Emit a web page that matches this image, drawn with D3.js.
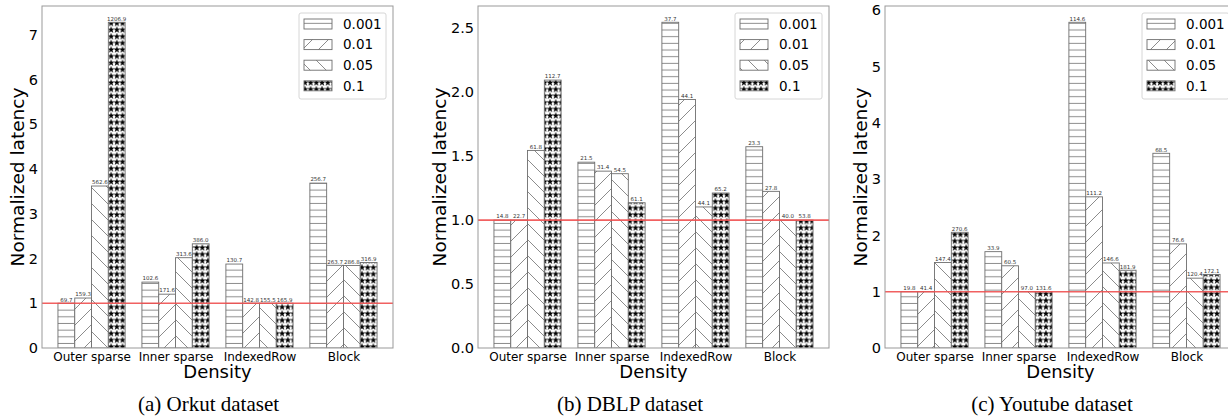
<!DOCTYPE html>
<html>
<head>
<meta charset="utf-8">
<script src="https://cdn.jsdelivr.net/npm/d3@7"></script>
<style>
  body { margin: 0; background: #fff; }
  svg { display: block; }
</style>
</head>
<body>
<script>
// formats on the x axis, densities are the four series
const categories = ["Outer sparse", "Inner sparse", "IndexedRow", "Block"]
const densities = ["0.001", "0.01", "0.05", "0.1"]

// normalized latency, one row per density (order of categories)
const orkutValues = [
  [1.0, 1.472, 1.875, 3.683],
  [1.116, 1.202, 1.0, 1.847],
  [3.618, 2.017, 1.0, 1.844],
  [7.275, 2.327, 1.0, 1.91],
]
// numbers printed on top of the bars
const orkutLabels = [
  [69.7, 102.6, 130.7, 256.7],
  [159.3, 171.6, 142.8, 263.7],
  [562.6, 313.6, 155.5, 286.8],
  [1206.9, 386.0, 165.9, 316.9],
]

const dblpValues = [
  [1.0, 1.453, 2.547, 1.574],
  [1.0, 1.383, 1.943, 1.225],
  [1.545, 1.363, 1.103, 1.0],
  [2.095, 1.136, 1.212, 1.0],
]
const dblpLabels = [
  [14.8, 21.5, 37.7, 23.3],
  [22.7, 31.4, 44.1, 27.8],
  [61.8, 54.5, 44.1, 40.0],
  [112.7, 61.1, 65.2, 53.8],
]

const youtubeValues = [
  [1.0, 1.712, 5.788, 3.46],
  [1.0, 1.461, 2.686, 1.85],
  [1.52, 1.0, 1.511, 1.241],
  [2.056, 1.0, 1.382, 1.308],
]
const youtubeLabels = [
  [19.8, 33.9, 114.6, 68.5],
  [41.4, 60.5, 111.2, 76.6],
  [147.4, 97.0, 146.6, 120.4],
  [270.6, 131.6, 181.9, 172.1],
]

const captions = ["(a) Orkut dataset", "(b) DBLP dataset", "(c) Youtube dataset"]
const yTicks = [
  [0, 1, 2, 3, 4, 5, 6, 7],
  [0, 0.5, 1.0, 1.5, 2.0, 2.5],
  [0, 1, 2, 3, 4, 5, 6],
]
const yTickFormats = [d3.format("d"), d3.format(".1f"), d3.format("d")]

const panels = [
  { values: orkutValues, labels: orkutLabels },
  { values: dblpValues, labels: dblpLabels },
  { values: youtubeValues, labels: youtubeLabels },
]

// layout
const w = 1228
const h = 419
const lefts = [42, 478, 885]
const captionX = [208.5, 630, 1052]
const axW = 351
const plotTop = 6
const plotBottom = 348
const barW = 0.2
const fontSans = "DejaVu Sans, sans-serif"
const edge = "#6e6e6e"

const svg = d3.select("body").append("svg").attr("width", w).attr("height", h)
const defs = svg.append("defs")

// hatch patterns, anchored to the page like matplotlib's
function pattern(id, pw, ph) {
  const p = defs.append("pattern")
    .attr("id", id)
    .attr("patternUnits", "userSpaceOnUse")
    .attr("width", pw)
    .attr("height", ph)
  p.append("rect").attr("width", pw).attr("height", ph).attr("fill", "#fff")
  return p
}

const hp = pattern("hatch-h", 10, 6.67)
hp.append("line").attr("x1", 0).attr("x2", 10).attr("y1", 3.3).attr("y2", 3.3)
  .attr("stroke", edge).attr("stroke-width", 0.8)

const P = 16
const fp = pattern("hatch-f", P, P)
fp.append("path")
  .attr("d", `M${-P / 2},${P / 2}L${P / 2},${-P / 2}M0,${P}L${P},0M${P / 2},${P * 1.5}L${P * 1.5},${P / 2}`)
  .attr("stroke", edge).attr("stroke-width", 0.8)

const bp = pattern("hatch-b", P, P)
bp.append("path")
  .attr("d", `M${-P / 2},${P / 2}L${P / 2},${P * 1.5}M0,0L${P},${P}M${P / 2},${-P / 2}L${P * 1.5},${P / 2}`)
  .attr("stroke", edge).attr("stroke-width", 0.8)

const sp = pattern("hatch-s", 5.7, 6.6)
sp.append("path")
  .attr("d", d3.symbol(d3.symbolStar).size(16)())
  .attr("transform", "translate(2.85,3.5)")
  .attr("fill", "#000")

const fills = ["url(#hatch-h)", "url(#hatch-f)", "url(#hatch-b)", "url(#hatch-s)"]

panels.forEach((p, i) => {
  const x0 = lefts[i]
  const g = svg.append("g")

  const x = d3.scaleLinear().domain([-0.59, 3.59]).range([x0, x0 + axW])
  const ymax = d3.max(p.values.flat()) * 1.05
  const y = d3.scaleLinear().domain([0, ymax]).range([plotBottom, plotTop])

  const clipId = "clip" + i
  defs.append("clipPath").attr("id", clipId)
    .append("rect").attr("x", x0).attr("y", plotTop).attr("width", axW).attr("height", plotBottom - plotTop)

  const plot = g.append("g").attr("clip-path", `url(#${clipId})`)

  densities.forEach((dname, si) => {
    const rows = categories.map((c, ci) => ({
      ci,
      v: p.values[si][ci],
      lab: p.labels[si][ci],
    }))
    const off = (si - 1.5) * barW - barW / 2

    plot.selectAll(".bar" + si)
      .data(rows)
      .enter()
      .append("rect")
      .attr("x", (d) => x(d.ci + off))
      .attr("y", (d) => y(d.v))
      .attr("width", x(barW) - x(0))
      .attr("height", (d) => y(0) - y(d.v))
      .attr("fill", fills[si])
      .attr("stroke", edge)
      .attr("stroke-width", 0.9)

    plot.selectAll(".lab" + si)
      .data(rows)
      .enter()
      .append("text")
      .text((d) => d3.format(".1f")(d.lab))
      .attr("x", (d) => x(d.ci + off + barW / 2))
      .attr("y", (d) => y(d.v) - 1.7)
      .attr("text-anchor", "middle")
      .attr("font-family", fontSans)
      .attr("font-size", "5.5px")
      .attr("fill", "#333")
  })

  // red reference line at 1
  plot.append("line")
    .attr("x1", x0).attr("x2", x0 + axW)
    .attr("y1", y(1)).attr("y2", y(1))
    .attr("stroke", "#f05050").attr("stroke-width", 1.7).attr("opacity", 0.9)

  // spines
  g.append("rect")
    .attr("x", x0).attr("y", plotTop).attr("width", axW).attr("height", plotBottom - plotTop)
    .attr("fill", "none").attr("stroke", "#999").attr("stroke-width", 1)

  // y axis
  const ya = g.append("g")
    .attr("transform", `translate(${x0},0)`)
    .call(d3.axisLeft(y).tickValues(yTicks[i]).tickFormat(yTickFormats[i]).tickSize(0).tickPadding(4))
  ya.select(".domain").remove()
  ya.selectAll("text").attr("font-family", fontSans).attr("font-size", "14.5px").attr("fill", "#000")
  const yb = ya.node().getBBox()

  // x axis
  const xa = g.append("g")
    .attr("transform", `translate(0,${plotBottom})`)
    .call(d3.axisBottom(x).tickValues([0, 1, 2, 3]).tickFormat((d) => categories[d]).tickSize(0).tickPadding(4))
  xa.select(".domain").remove()
  xa.selectAll("text").attr("font-family", fontSans).attr("font-size", "12px").attr("fill", "#000")

  g.append("text")
    .text("Density")
    .attr("x", x0 + axW / 2)
    .attr("y", 378)
    .attr("text-anchor", "middle")
    .attr("font-family", fontSans)
    .attr("font-size", "18px")

  g.append("text")
    .text("Normalized latency")
    .attr("transform", `translate(${x0 + yb.x - 5},${(plotTop + plotBottom) / 2}) rotate(-90)`)
    .attr("text-anchor", "middle")
    .attr("font-family", fontSans)
    .attr("font-size", "18.5px")

  // legend
  const lx = x0 + axW - 7 - 87
  const lg = g.append("g").attr("clip-path", `url(#${clipId})`)
  lg.append("rect")
    .attr("x", lx).attr("y", 13).attr("width", 87).attr("height", 86).attr("rx", 2)
    .attr("fill", "#fff").attr("fill-opacity", 0.8)
    .attr("stroke", "#d6d6d6").attr("stroke-width", 1)
  densities.forEach((dname, si) => {
    const cy = 24 + si * 20.6
    lg.append("rect")
      .attr("x", lx + 5).attr("y", cy - 5).attr("width", 28).attr("height", 10)
      .attr("fill", fills[si]).attr("stroke", edge).attr("stroke-width", 0.9)
    lg.append("text")
      .text(dname)
      .attr("x", lx + 44).attr("y", cy)
      .attr("dy", "0.36em")
      .attr("font-family", fontSans)
      .attr("font-size", "13.5px")
  })

  svg.append("text")
    .text(captions[i])
    .attr("x", captionX[i])
    .attr("y", 411)
    .attr("text-anchor", "middle")
    .attr("font-family", "Liberation Serif, Times New Roman, serif")
    .attr("font-size", "21px")
})
</script>
</body>
</html>
